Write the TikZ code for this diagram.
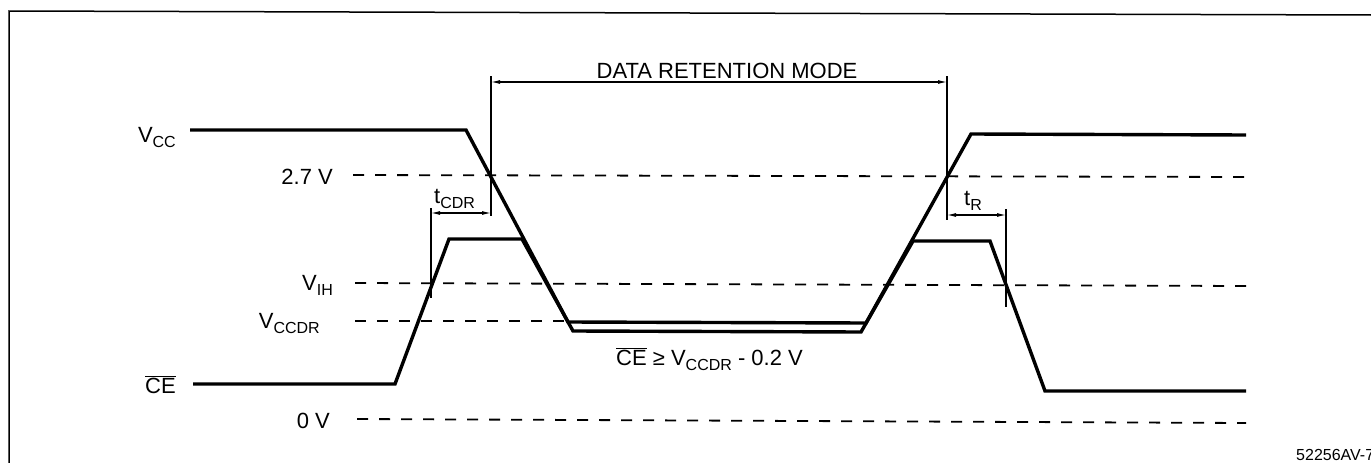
\documentclass[tikz,border=0pt]{standalone}
\usepackage{fontspec}
\setmainfont{Liberation Sans}
\usetikzlibrary{arrows.meta}
\newcommand{\sbs}[1]{\raisebox{-5pt}{\fontsize{16}{16}\selectfont #1}}
\begin{document}
\begin{tikzpicture}[x=1pt,y=-1pt,
  sig/.style={line width=3.4pt, line join=miter},
  refline/.style={line width=1.8pt, dash pattern=on 11pt off 11pt},
  fine/.style={line width=1.1pt},
  dim/.style={line width=1.1pt, {Latex[length=9pt,width=4pt]}-{Latex[length=9pt,width=4pt]}},
  lbl/.style={font=\fontsize{22}{26}\selectfont, inner sep=0pt}]
\useasboundingbox (0,0) rectangle (1371,463);
% frame
\draw[line width=1.5pt] (9,463) -- (9,11) -- (1371,15);

% reference levels
\draw[refline] (353,175) -- (1246,177);
\draw[refline] (355,283) -- (1246,286);
\draw[refline] (355,321) -- (566,321);
\draw[refline] (357,419) -- (1246,423);

% VCC waveform
\draw[sig] (190,130) -- (466,130) -- (568,322) -- (866,323) -- (971,134) -- (1246,135);
% CE waveform
\draw[sig] (193,384) -- (395,384) -- (449,239) -- (522,239) -- (573,331) -- (861,332) -- (913,241) -- (990,241) -- (1045,391) -- (1246,391);

% dimension markers
\coordinate (dL) at (491,82);
\coordinate (dR) at (947,82);
\coordinate (cL) at (431,213);
\coordinate (cR) at (491,213);
\coordinate (rL) at (947,215);
\coordinate (rR) at (1006,215);
\draw[fine] (491,76) -- (491,216);
\draw[fine] (947,76) -- (947,220);
\draw[fine] (431,208) -- (431,298);
\draw[fine] (1006,209) -- (1006,307);
\draw[dim] (dL) -- (dR);
\draw[dim] (cL) -- (cR);
\draw[dim] (rL) -- (rR);

% labels
\node[lbl,anchor=base] (drm) at (727,78) {DATA RETENTION MODE};
\node[lbl,anchor=base east] (vcc) at (176,142) {V\sbs{CC}};
\node[lbl,anchor=base east] (v27) at (333,184) {2.7 V};
\node[lbl,anchor=base west] (tcdr) at (434,203) {t\sbs{CDR}};
\node[lbl,anchor=base west] (tr) at (964,205) {t\sbs{R}};
\node[lbl,anchor=base east] (vih) at (333,290) {V\sbs{IH}};
\node[lbl,anchor=base east] (vccdr) at (320,328) {V\sbs{CCDR}};
\node[lbl,anchor=base east] (ce) at (176,393) {$\overline{\mbox{CE}}$};
\node[lbl,anchor=base east] (v0) at (330,428) {0 V};
\node[lbl,anchor=base west] (cond) at (616,365) {$\overline{\mbox{CE}}$ ≥ V\sbs{CCDR} - 0.2 V};
\node[anchor=base west, inner sep=0pt, font=\fontsize{16}{18}\selectfont] (fig) at (1296,460) {52256AV-7};
\end{tikzpicture}
\end{document}
